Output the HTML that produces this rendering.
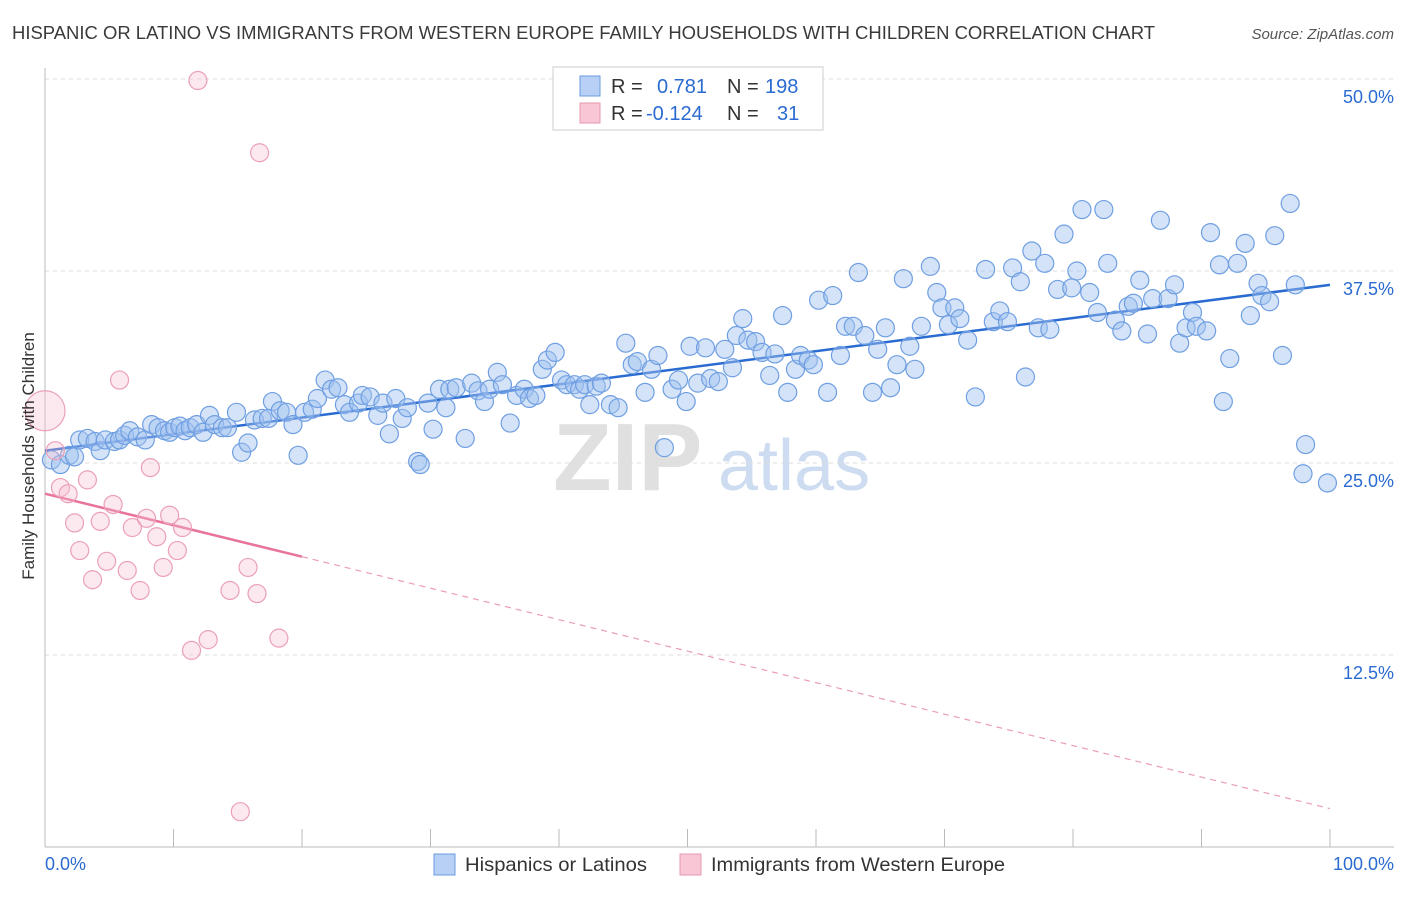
<!DOCTYPE html>
<html><head><meta charset="utf-8">
<style>
body{margin:0;background:#fff;font-family:"Liberation Sans",sans-serif;}
svg text{font-family:"Liberation Sans",sans-serif;}
</style></head>
<body>
<svg id="chart" width="1406" height="892" xmlns="http://www.w3.org/2000/svg">
<text x="12" y="39" font-size="18" fill="#3a3a3a" textLength="1143" lengthAdjust="spacingAndGlyphs">HISPANIC OR LATINO VS IMMIGRANTS FROM WESTERN EUROPE FAMILY HOUSEHOLDS WITH CHILDREN CORRELATION CHART</text>
<text x="1394" y="39" font-size="15" fill="#555" font-style="italic" text-anchor="end">Source: ZipAtlas.com</text>
<g>
<text x="553" y="490" font-size="96" fill="#e0e0e0" font-family="Liberation Serif" font-weight="bold">ZIP</text>
<text x="718" y="490" font-size="72" fill="#cddcf0">atlas</text>
</g>
<g id="grid"></g>
<g id="axes"></g>
<g id="lines"></g>
<g id="pts"></g>
<text transform="translate(34,456) rotate(-90)" font-size="17" fill="#333" text-anchor="middle">Family Households with Children</text>
<g>
<rect x="553" y="67" width="270" height="63" fill="#fff" stroke="#ccc"/>
<rect x="580" y="76" width="20" height="20" fill="#b8d0f5" stroke="#6a9be0"/>
<rect x="580" y="103" width="20" height="20" fill="#f9c6d6" stroke="#e89ab2"/>
<text x="611" y="93" font-size="20" fill="#333">R =</text>
<text x="657" y="93" font-size="20" fill="#2a6bd1">0.781</text>
<text x="727" y="93" font-size="20" fill="#333">N =</text>
<text x="765" y="93" font-size="20" fill="#2a6bd1">198</text>
<text x="611" y="120" font-size="20" fill="#333">R =</text>
<text x="646" y="120" font-size="20" fill="#2a6bd1">-0.124</text>
<text x="727" y="120" font-size="20" fill="#333">N =</text>
<text x="777" y="120" font-size="20" fill="#2a6bd1">31</text>
</g>
<g>
<rect x="434" y="854" width="21" height="21" fill="#b8d0f5" stroke="#6a9be0"/>
<text x="465" y="871" font-size="19.5" fill="#333" textLength="182" lengthAdjust="spacingAndGlyphs">Hispanics or Latinos</text>
<rect x="680" y="854" width="21" height="21" fill="#f9c6d6" stroke="#e89ab2"/>
<text x="711" y="871" font-size="19.5" fill="#333" textLength="294" lengthAdjust="spacingAndGlyphs">Immigrants from Western Europe</text>
</g>
</svg>
<script>
const yTicks=[12.5,25,37.5,50];
const yTickLabels=["12.5%","25.0%","37.5%","50.0%"];
const xTicks=[0,10,20,30,40,50,60,70,80,90,100];
const blueX=[0.5,1.2,1.9,2.3,2.7,3.3,3.9,4.3,4.7,5.4,5.8,6.2,6.6,7.2,7.8,8.3,8.8,9.3,9.7,10.1,10.5,10.9,11.3,11.8,12.3,12.8,13.2,13.8,14.2,14.9,15.3,15.8,16.3,16.9,17.4,17.7,18.3,18.8,19.3,19.7,20.2,20.8,21.2,21.8,22.3,22.8,23.3,23.7,24.4,24.7,25.3,25.9,26.3,26.8,27.3,27.8,28.2,29.0,29.2,29.8,30.2,30.7,31.2,31.5,32.0,32.7,33.2,33.7,34.2,34.6,35.2,35.6,36.2,36.7,37.3,37.7,38.2,38.7,39.1,39.7,40.2,40.6,41.2,41.6,42.0,42.4,42.9,43.3,44.0,44.6,45.2,45.7,46.1,46.7,47.2,47.7,48.2,48.8,49.3,49.9,50.2,50.8,51.4,51.8,52.4,52.9,53.5,53.8,54.3,54.7,55.3,55.8,56.4,56.8,57.4,57.8,58.4,58.8,59.4,59.8,60.2,60.9,61.3,61.9,62.3,62.9,63.3,63.8,64.4,64.8,65.4,65.8,66.3,66.8,67.3,67.7,68.2,68.9,69.4,69.8,70.3,70.8,71.2,71.8,72.4,73.2,73.8,74.3,74.9,75.3,75.9,76.3,76.8,77.3,77.8,78.2,78.8,79.3,79.9,80.3,80.7,81.3,81.9,82.4,82.7,83.3,83.8,84.3,84.7,85.2,85.8,86.2,86.8,87.4,87.9,88.3,88.8,89.3,89.6,90.4,90.7,91.4,91.7,92.2,92.8,93.4,93.8,94.4,94.7,95.3,95.7,96.3,96.9,97.3,98.1,97.9,99.8];
const blueY=[25.2,24.9,25.5,25.4,26.5,26.6,26.4,25.8,26.5,26.4,26.5,26.8,27.1,26.7,26.5,27.5,27.3,27.1,27.0,27.3,27.4,27.1,27.3,27.5,27.0,28.1,27.5,27.3,27.3,28.3,25.7,26.3,27.8,27.9,27.9,29.0,28.4,28.3,27.5,25.5,28.3,28.5,29.2,30.4,29.8,29.9,28.8,28.3,28.9,29.4,29.3,28.1,28.9,26.9,29.2,27.9,28.6,25.1,24.9,28.9,27.2,29.8,28.6,29.8,29.9,26.6,30.2,29.7,29.0,29.8,30.9,30.1,27.6,29.4,29.8,29.2,29.4,31.1,31.7,32.2,30.4,30.1,30.1,29.8,30.1,28.8,30.0,30.2,28.8,28.6,32.8,31.4,31.6,29.6,31.1,32.0,26.0,29.8,30.4,29.0,32.6,30.2,32.5,30.5,30.3,32.4,31.2,33.3,34.4,33.0,32.9,32.2,30.7,32.1,34.6,29.6,31.1,32.0,31.7,31.4,35.6,29.6,35.9,32.0,33.9,33.9,37.4,33.3,29.6,32.4,33.8,29.9,31.4,37.0,32.6,31.1,33.9,37.8,36.1,35.1,34.0,35.1,34.4,33.0,29.3,37.6,34.2,34.9,34.2,37.7,36.8,30.6,38.8,33.8,38.0,33.7,36.3,39.9,36.4,37.5,41.5,36.1,34.8,41.5,38.0,34.3,33.6,35.2,35.4,36.9,33.4,35.7,40.8,35.7,36.6,32.8,33.8,34.8,33.9,33.6,40.0,37.9,29.0,31.8,38.0,39.3,34.6,36.7,35.9,35.5,39.8,32.0,41.9,36.6,26.2,24.3,23.7];
const pinkX=[0,0.8,1.2,1.8,2.3,2.7,3.3,3.7,4.3,4.8,5.3,5.8,6.4,6.8,7.4,7.9,8.2,8.7,9.2,9.7,10.3,10.7,11.4,11.9,12.7,14.4,15.2,15.8,16.5,16.7,18.2];
const pinkY=[28.4,25.8,23.4,23.0,21.1,19.3,23.9,17.4,21.2,18.6,22.3,30.4,18.0,20.8,16.7,21.4,24.7,20.2,18.2,21.6,19.3,20.8,12.8,49.9,13.5,16.7,2.3,18.2,16.5,45.2,13.6];
const pinkSize=[20,9,9,9,9,9,9,9,9,9,9,9,9,9,9,9,9,9,9,9,9,9,9,9,9,9,9,9,9,9,9];
const blueTrend=[25.8,36.6];
const pinkTrend=[23.0,2.5];
const pinkSolidEnd=20;

const NS="http://www.w3.org/2000/svg";
const X=v=>45+v*12.85, Y=v=>847-v*15.36;
function mk(t,a,p){const e=document.createElementNS(NS,t);for(const k in a)e.setAttribute(k,a[k]);p.appendChild(e);return e;}
const grid=document.getElementById('grid'),axes=document.getElementById('axes'),lines=document.getElementById('lines'),pts=document.getElementById('pts');
yTicks.forEach((t,i)=>{
  const l=mk('line',{x1:45,x2:1394,y1:Y(t),y2:Y(t),stroke:'#ddd','stroke-dasharray':'4,4'},grid);
  
  
  const tx=mk('text',{x:1394,y:Y(t)+24,'font-size':18,fill:'#2a6bd1','text-anchor':'end'},axes);
  tx.textContent=yTickLabels[i];
  
  
});
mk('line',{x1:45,x2:45,y1:68,y2:847,stroke:'#bbb'},axes);
mk('line',{x1:45,x2:1394,y1:847,y2:847,stroke:'#bbb'},axes);
xTicks.forEach(t=>{
  const l=mk('line',{x1:X(t),x2:X(t),y1:829,y2:847,stroke:'#bbb'},axes);
  
  
});
const x0=mk('text',{x:45,y:870,'font-size':18,fill:'#2a6bd1'},axes);x0.textContent='0.0%';


const x1=mk('text',{x:1394,y:870,'font-size':18,fill:'#2a6bd1','text-anchor':'end'},axes);x1.textContent='100.0%';


blueX.forEach((v,i)=>{
  const c=mk('circle',{cx:X(v),cy:Y(blueY[i]),r:9,fill:'rgba(160,192,240,0.45)',stroke:'#6f9fe2','stroke-width':1.2},pts);
  
  
});
pinkX.forEach((v,i)=>{
  const c=mk('circle',{cx:X(v),cy:Y(pinkY[i]),r:pinkSize[i],fill:'rgba(247,190,208,0.35)',stroke:'#eba0b8','stroke-width':1.2},pts);
  
  
});
const bl=mk('line',{x1:X(0),y1:Y(blueTrend[0]),x2:X(100),y2:Y(blueTrend[1]),stroke:'#2a6bd1','stroke-width':2.5},lines);


const pAt=x=>pinkTrend[0]+(pinkTrend[1]-pinkTrend[0])*x/100;
const ps=mk('line',{x1:X(0),y1:Y(pinkTrend[0]),x2:X(pinkSolidEnd),y2:Y(pAt(pinkSolidEnd)),stroke:'#e8739b','stroke-width':2.5},lines);


const pd=mk('line',{x1:X(pinkSolidEnd),y1:Y(pAt(pinkSolidEnd)),x2:X(100),y2:Y(pinkTrend[1]),stroke:'#eb9db6','stroke-width':1.2,'stroke-dasharray':'6,5'},lines);


</script>
</body></html>
